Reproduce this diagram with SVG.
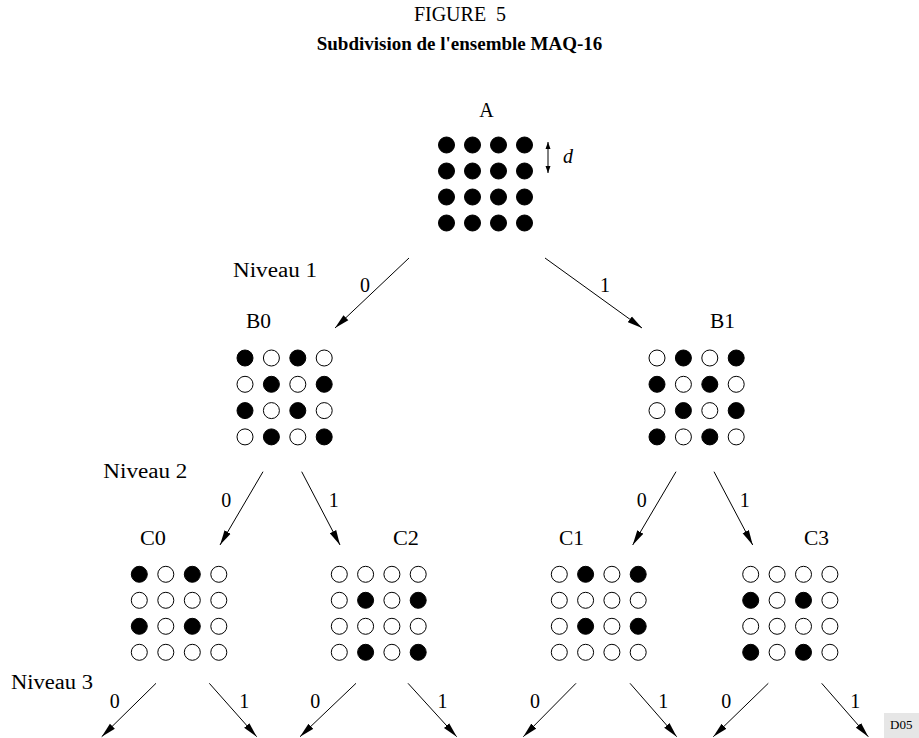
<svg xmlns="http://www.w3.org/2000/svg" width="919" height="738" viewBox="0 0 919 738">
<defs>
<style>
text{font-family:"Liberation Serif","Times New Roman",serif;font-size:20px;fill:#000}
.b{font-weight:bold}
.m{text-anchor:middle}
.f{fill:#000;stroke:#000;stroke-width:1}
.o{fill:#fff;stroke:#000;stroke-width:1}
.c line{stroke:#000;stroke-width:1;marker-end:url(#ah)}
</style>
<marker id="ah" markerUnits="userSpaceOnUse" markerWidth="16" markerHeight="8" refX="15" refY="4" orient="auto">
<path d="M0,0.5 L15,4 L0,7.5 z" fill="#000"/>
</marker>
<marker id="sh" markerUnits="userSpaceOnUse" markerWidth="8" markerHeight="6" refX="7" refY="3" orient="auto-start-reverse">
<path d="M0,0.5 L7,3 L0,5.5 z" fill="#000"/>
</marker>
</defs>
<rect width="919" height="738" fill="#fff"/>
<text class="m" x="460" y="21" xml:space="preserve">FIGURE  5</text>
<text class="b m" x="459.5" y="50" style="font-size:19px">Subdivision de l'ensemble MAQ-16</text>

<g id="A">
<text class="m" x="486.5" y="117">A</text>
<g class="f">
<circle cx="446.5" cy="145" r="8"/><circle cx="472.5" cy="145" r="8"/><circle cx="498.5" cy="145" r="8"/><circle cx="524.5" cy="145" r="8"/>
<circle cx="446.5" cy="171" r="8"/><circle cx="472.5" cy="171" r="8"/><circle cx="498.5" cy="171" r="8"/><circle cx="524.5" cy="171" r="8"/>
<circle cx="446.5" cy="197" r="8"/><circle cx="472.5" cy="197" r="8"/><circle cx="498.5" cy="197" r="8"/><circle cx="524.5" cy="197" r="8"/>
<circle cx="446.5" cy="223" r="8"/><circle cx="472.5" cy="223" r="8"/><circle cx="498.5" cy="223" r="8"/><circle cx="524.5" cy="223" r="8"/>
</g>
<line x1="548" y1="142" x2="548" y2="173" stroke="#000" stroke-width="1" marker-start="url(#sh)" marker-end="url(#sh)"/>
<text x="563" y="163" font-style="italic">d</text>
</g>

<g id="B0">
<text x="246" y="328" textLength="25" lengthAdjust="spacingAndGlyphs">B0</text>
<circle class="f" cx="245" cy="358" r="8"/><circle class="o" cx="271.4" cy="358" r="8"/><circle class="f" cx="297.8" cy="358" r="8"/><circle class="o" cx="324.2" cy="358" r="8"/>
<circle class="o" cx="245" cy="384.3" r="8"/><circle class="f" cx="271.4" cy="384.3" r="8"/><circle class="o" cx="297.8" cy="384.3" r="8"/><circle class="f" cx="324.2" cy="384.3" r="8"/>
<circle class="f" cx="245" cy="410.6" r="8"/><circle class="o" cx="271.4" cy="410.6" r="8"/><circle class="f" cx="297.8" cy="410.6" r="8"/><circle class="o" cx="324.2" cy="410.6" r="8"/>
<circle class="o" cx="245" cy="436.9" r="8"/><circle class="f" cx="271.4" cy="436.9" r="8"/><circle class="o" cx="297.8" cy="436.9" r="8"/><circle class="f" cx="324.2" cy="436.9" r="8"/>
</g>

<g id="B1">
<text x="710" y="328" textLength="25" lengthAdjust="spacingAndGlyphs">B1</text>
<circle class="o" cx="657" cy="358" r="8"/><circle class="f" cx="683.4" cy="358" r="8"/><circle class="o" cx="709.8" cy="358" r="8"/><circle class="f" cx="736.2" cy="358" r="8"/>
<circle class="f" cx="657" cy="384.3" r="8"/><circle class="o" cx="683.4" cy="384.3" r="8"/><circle class="f" cx="709.8" cy="384.3" r="8"/><circle class="o" cx="736.2" cy="384.3" r="8"/>
<circle class="o" cx="657" cy="410.6" r="8"/><circle class="f" cx="683.4" cy="410.6" r="8"/><circle class="o" cx="709.8" cy="410.6" r="8"/><circle class="f" cx="736.2" cy="410.6" r="8"/>
<circle class="f" cx="657" cy="436.9" r="8"/><circle class="o" cx="683.4" cy="436.9" r="8"/><circle class="f" cx="709.8" cy="436.9" r="8"/><circle class="o" cx="736.2" cy="436.9" r="8"/>
</g>

<g id="C0">
<text x="140" y="545" textLength="26" lengthAdjust="spacingAndGlyphs">C0</text>
<circle class="f" cx="139.3" cy="574.3" r="8"/><circle class="o" cx="165.8" cy="574.3" r="8"/><circle class="f" cx="192.3" cy="574.3" r="8"/><circle class="o" cx="218.8" cy="574.3" r="8"/>
<circle class="o" cx="139.3" cy="600.3" r="8"/><circle class="o" cx="165.8" cy="600.3" r="8"/><circle class="o" cx="192.3" cy="600.3" r="8"/><circle class="o" cx="218.8" cy="600.3" r="8"/>
<circle class="f" cx="139.3" cy="626.3" r="8"/><circle class="o" cx="165.8" cy="626.3" r="8"/><circle class="f" cx="192.3" cy="626.3" r="8"/><circle class="o" cx="218.8" cy="626.3" r="8"/>
<circle class="o" cx="139.3" cy="652.3" r="8"/><circle class="o" cx="165.8" cy="652.3" r="8"/><circle class="o" cx="192.3" cy="652.3" r="8"/><circle class="o" cx="218.8" cy="652.3" r="8"/>
</g>

<g id="C2">
<text x="393" y="545" textLength="26" lengthAdjust="spacingAndGlyphs">C2</text>
<circle class="o" cx="339.3" cy="574.3" r="8"/><circle class="o" cx="365.6" cy="574.3" r="8"/><circle class="o" cx="391.9" cy="574.3" r="8"/><circle class="o" cx="418.2" cy="574.3" r="8"/>
<circle class="o" cx="339.3" cy="600.3" r="8"/><circle class="f" cx="365.6" cy="600.3" r="8"/><circle class="o" cx="391.9" cy="600.3" r="8"/><circle class="f" cx="418.2" cy="600.3" r="8"/>
<circle class="o" cx="339.3" cy="626.3" r="8"/><circle class="o" cx="365.6" cy="626.3" r="8"/><circle class="o" cx="391.9" cy="626.3" r="8"/><circle class="o" cx="418.2" cy="626.3" r="8"/>
<circle class="o" cx="339.3" cy="652.3" r="8"/><circle class="f" cx="365.6" cy="652.3" r="8"/><circle class="o" cx="391.9" cy="652.3" r="8"/><circle class="f" cx="418.2" cy="652.3" r="8"/>
</g>

<g id="C1">
<text x="559" y="545" textLength="25" lengthAdjust="spacingAndGlyphs">C1</text>
<circle class="o" cx="559.3" cy="574.3" r="8"/><circle class="f" cx="585.6" cy="574.3" r="8"/><circle class="o" cx="611.9" cy="574.3" r="8"/><circle class="f" cx="638.2" cy="574.3" r="8"/>
<circle class="o" cx="559.3" cy="600.3" r="8"/><circle class="o" cx="585.6" cy="600.3" r="8"/><circle class="o" cx="611.9" cy="600.3" r="8"/><circle class="o" cx="638.2" cy="600.3" r="8"/>
<circle class="o" cx="559.3" cy="626.3" r="8"/><circle class="f" cx="585.6" cy="626.3" r="8"/><circle class="o" cx="611.9" cy="626.3" r="8"/><circle class="f" cx="638.2" cy="626.3" r="8"/>
<circle class="o" cx="559.3" cy="652.3" r="8"/><circle class="o" cx="585.6" cy="652.3" r="8"/><circle class="o" cx="611.9" cy="652.3" r="8"/><circle class="o" cx="638.2" cy="652.3" r="8"/>
</g>

<g id="C3">
<text x="804" y="545" textLength="25" lengthAdjust="spacingAndGlyphs">C3</text>
<circle class="o" cx="750.7" cy="574.3" r="8"/><circle class="o" cx="777.1" cy="574.3" r="8"/><circle class="o" cx="803.5" cy="574.3" r="8"/><circle class="o" cx="829.9" cy="574.3" r="8"/>
<circle class="f" cx="750.7" cy="600.3" r="8"/><circle class="o" cx="777.1" cy="600.3" r="8"/><circle class="f" cx="803.5" cy="600.3" r="8"/><circle class="o" cx="829.9" cy="600.3" r="8"/>
<circle class="o" cx="750.7" cy="626.3" r="8"/><circle class="o" cx="777.1" cy="626.3" r="8"/><circle class="o" cx="803.5" cy="626.3" r="8"/><circle class="o" cx="829.9" cy="626.3" r="8"/>
<circle class="f" cx="750.7" cy="652.3" r="8"/><circle class="o" cx="777.1" cy="652.3" r="8"/><circle class="f" cx="803.5" cy="652.3" r="8"/><circle class="o" cx="829.9" cy="652.3" r="8"/>
</g>

<g id="levels">
<text x="233" y="277" textLength="84" lengthAdjust="spacingAndGlyphs">Niveau 1</text>
<text x="103.3" y="478" textLength="84" lengthAdjust="spacingAndGlyphs">Niveau 2</text>
<text x="11" y="688.5" textLength="82" lengthAdjust="spacingAndGlyphs">Niveau 3</text>
</g>

<g id="connectors" class="c">
<line x1="409" y1="258" x2="335" y2="328"/>
<line x1="545" y1="258" x2="642" y2="328"/>
<line x1="263" y1="471.7" x2="220" y2="545"/>
<line x1="301.7" y1="471.7" x2="340" y2="545"/>
<line x1="676" y1="471.7" x2="632.7" y2="545"/>
<line x1="714" y1="471.7" x2="752.7" y2="545"/>
<line x1="156" y1="683.3" x2="101.7" y2="736.7"/>
<line x1="209.3" y1="683.3" x2="256.7" y2="736.7"/>
<line x1="356" y1="683.3" x2="300" y2="736.7"/>
<line x1="408" y1="683.3" x2="456.7" y2="736.7"/>
<line x1="576" y1="683.3" x2="523.3" y2="736.7"/>
<line x1="630" y1="683.3" x2="676.7" y2="736.7"/>
<line x1="768.3" y1="683.3" x2="713.3" y2="736.7"/>
<line x1="821.7" y1="683.3" x2="868.3" y2="736.7"/>
</g>

<g id="edge-labels">
<text class="m" x="365" y="291.7">0</text>
<text class="m" x="605" y="292">1</text>
<text class="m" x="226.2" y="506.7">0</text>
<text class="m" x="333.7" y="506.7">1</text>
<text class="m" x="641.7" y="506.7">0</text>
<text class="m" x="744.7" y="506.7">1</text>
<text class="m" x="114.7" y="708.3">0</text>
<text class="m" x="244.2" y="708.3">1</text>
<text class="m" x="315.3" y="708.3">0</text>
<text class="m" x="442.5" y="708.3">1</text>
<text class="m" x="535" y="708.3">0</text>
<text class="m" x="663.3" y="708.3">1</text>
<text class="m" x="726.2" y="708.3">0</text>
<text class="m" x="855.3" y="708.3">1</text>
</g>

<g id="tag">
<rect x="884" y="713" width="35" height="25" fill="#e6e6e6"/>
<text x="890" y="729" style="font-size:13px">D05</text>
</g>
</svg>
